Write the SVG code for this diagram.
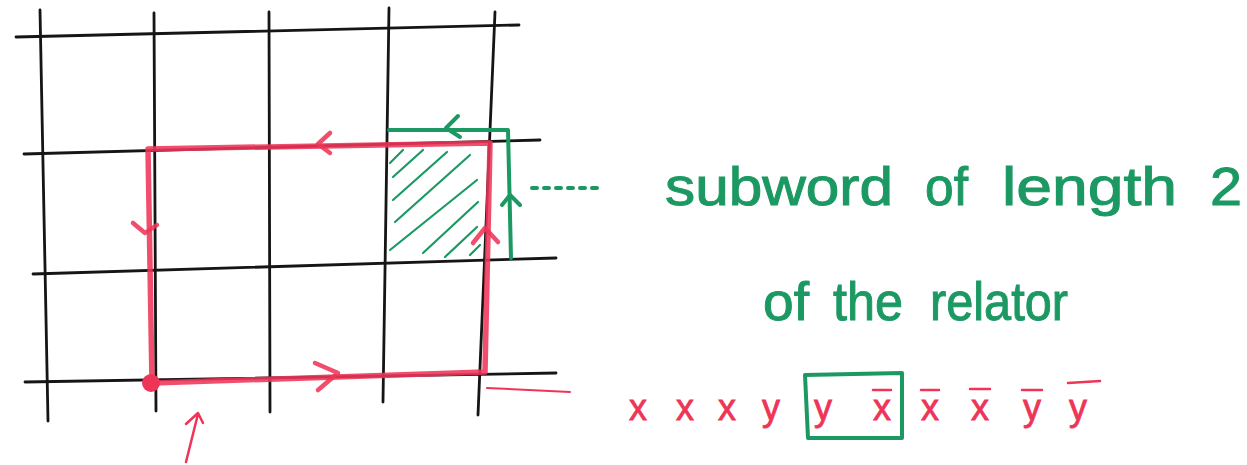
<svg xmlns="http://www.w3.org/2000/svg" width="1247" height="465" viewBox="0 0 1247 465">
<style>
.grid{stroke:#151515;stroke-width:2.8;fill:none;stroke-linecap:round}
.red{stroke:#ee3558;fill:none;stroke-linecap:round;stroke-linejoin:round}
.grn{stroke:#1c9963;fill:none;stroke-linecap:round;stroke-linejoin:round}
.lbl{font-family:"Liberation Sans","DejaVu Sans",sans-serif;font-size:54px;fill:#1c9963;stroke:#1c9963;stroke-width:1}
.wrd{font-family:"Liberation Sans","DejaVu Sans",sans-serif;font-size:36px;fill:#ee3558;stroke:#ee3558;stroke-width:0.8;text-anchor:middle}
</style>
<rect width="1247" height="465" fill="#ffffff"/>
<g id="grid" class="grid">
<line x1="40" y1="10" x2="48" y2="421"/>
<line x1="154" y1="13" x2="156" y2="411"/>
<line x1="269" y1="12" x2="270" y2="412"/>
<line x1="389" y1="8" x2="383" y2="402"/>
<line x1="495" y1="12" x2="478" y2="415"/>
<line x1="16" y1="37" x2="519" y2="25"/>
<line x1="24" y1="154" x2="540" y2="140"/>
<line x1="33" y1="274" x2="556" y2="258"/>
<line x1="25" y1="382" x2="556" y2="373"/>
</g>
<g id="subword-cell">
<g class="grn" stroke-width="2.2">
<line x1="390" y1="163" x2="403" y2="150"/>
<line x1="393" y1="177" x2="423" y2="150"/>
<line x1="393" y1="200" x2="447" y2="152"/>
<line x1="395" y1="222" x2="470" y2="155"/>
<line x1="390" y1="250" x2="477" y2="180"/>
<line x1="423" y1="253" x2="478" y2="202"/>
<line x1="445" y1="257" x2="477" y2="227"/>
<line x1="470" y1="255" x2="480" y2="245"/>
</g>
<g class="grn" stroke-width="4">
<path d="M389 130 L508 130 L511 258"/>
<path d="M458 116 L446 128 L460 137"/>
<path d="M502 205 L510 195 L520 205"/>
</g>
</g>
<g id="loop" class="red" stroke-opacity="0.88">
<path d="M152 383 L485 372 L490 143 L148 149 Z" stroke-width="5.5"/>
<circle cx="151" cy="383" r="9" fill="#ee3558" stroke="none"/>
<path d="M330 133 L318 144 L330 153" stroke-width="4.5"/>
<path d="M133 223 L145 233 L157 225" stroke-width="4.5"/>
<path d="M315 363 L338 373 L318 390" stroke-width="4.5"/>
<path d="M473 243 L485 228 L498 242" stroke-width="4.5"/>
</g>
<g id="connectors">
<line x1="532" y1="188" x2="598" y2="188" class="grn" stroke-width="4" stroke-dasharray="5 7"/>
<path d="M487 388 L570 392" class="red" stroke-width="2"/>
<path d="M186 462 L198 414 M186 424 L198 413 L203 423" class="red" stroke-width="2.5"/>
</g>
<g id="label">
<text class="lbl" x="665" y="205" textLength="228" lengthAdjust="spacingAndGlyphs">subword</text>
<text class="lbl" x="925" y="205" textLength="43" lengthAdjust="spacingAndGlyphs">of</text>
<text class="lbl" x="1002" y="205" textLength="175" lengthAdjust="spacingAndGlyphs">length</text>
<text class="lbl" x="1210" y="205" textLength="32" lengthAdjust="spacingAndGlyphs">2</text>
<text class="lbl" x="763" y="320" textLength="46" lengthAdjust="spacingAndGlyphs">of</text>
<text class="lbl" x="833" y="320" textLength="70" lengthAdjust="spacingAndGlyphs">the</text>
<text class="lbl" x="930" y="320" textLength="138" lengthAdjust="spacingAndGlyphs">relator</text>
</g>
<g id="relator-word">
<text class="wrd" y="420"><tspan x="638">x</tspan><tspan x="685">x</tspan><tspan x="727">x</tspan><tspan x="771">y</tspan><tspan x="823">y</tspan><tspan x="882">x</tspan><tspan x="930">x</tspan><tspan x="980">x</tspan><tspan x="1032">y</tspan><tspan x="1078">y</tspan></text>
<g class="red" stroke-width="2.5">
<line x1="873" y1="390" x2="891" y2="390"/>
<line x1="921" y1="390" x2="939" y2="390"/>
<line x1="970" y1="389" x2="990" y2="389"/>
<line x1="1022" y1="390" x2="1042" y2="390"/>
<line x1="1068" y1="383" x2="1100" y2="381"/>
</g>
<path d="M805 375 L902 373 L902 438 L808 438 Z" class="grn" stroke-width="4"/>
</g>
</svg>
